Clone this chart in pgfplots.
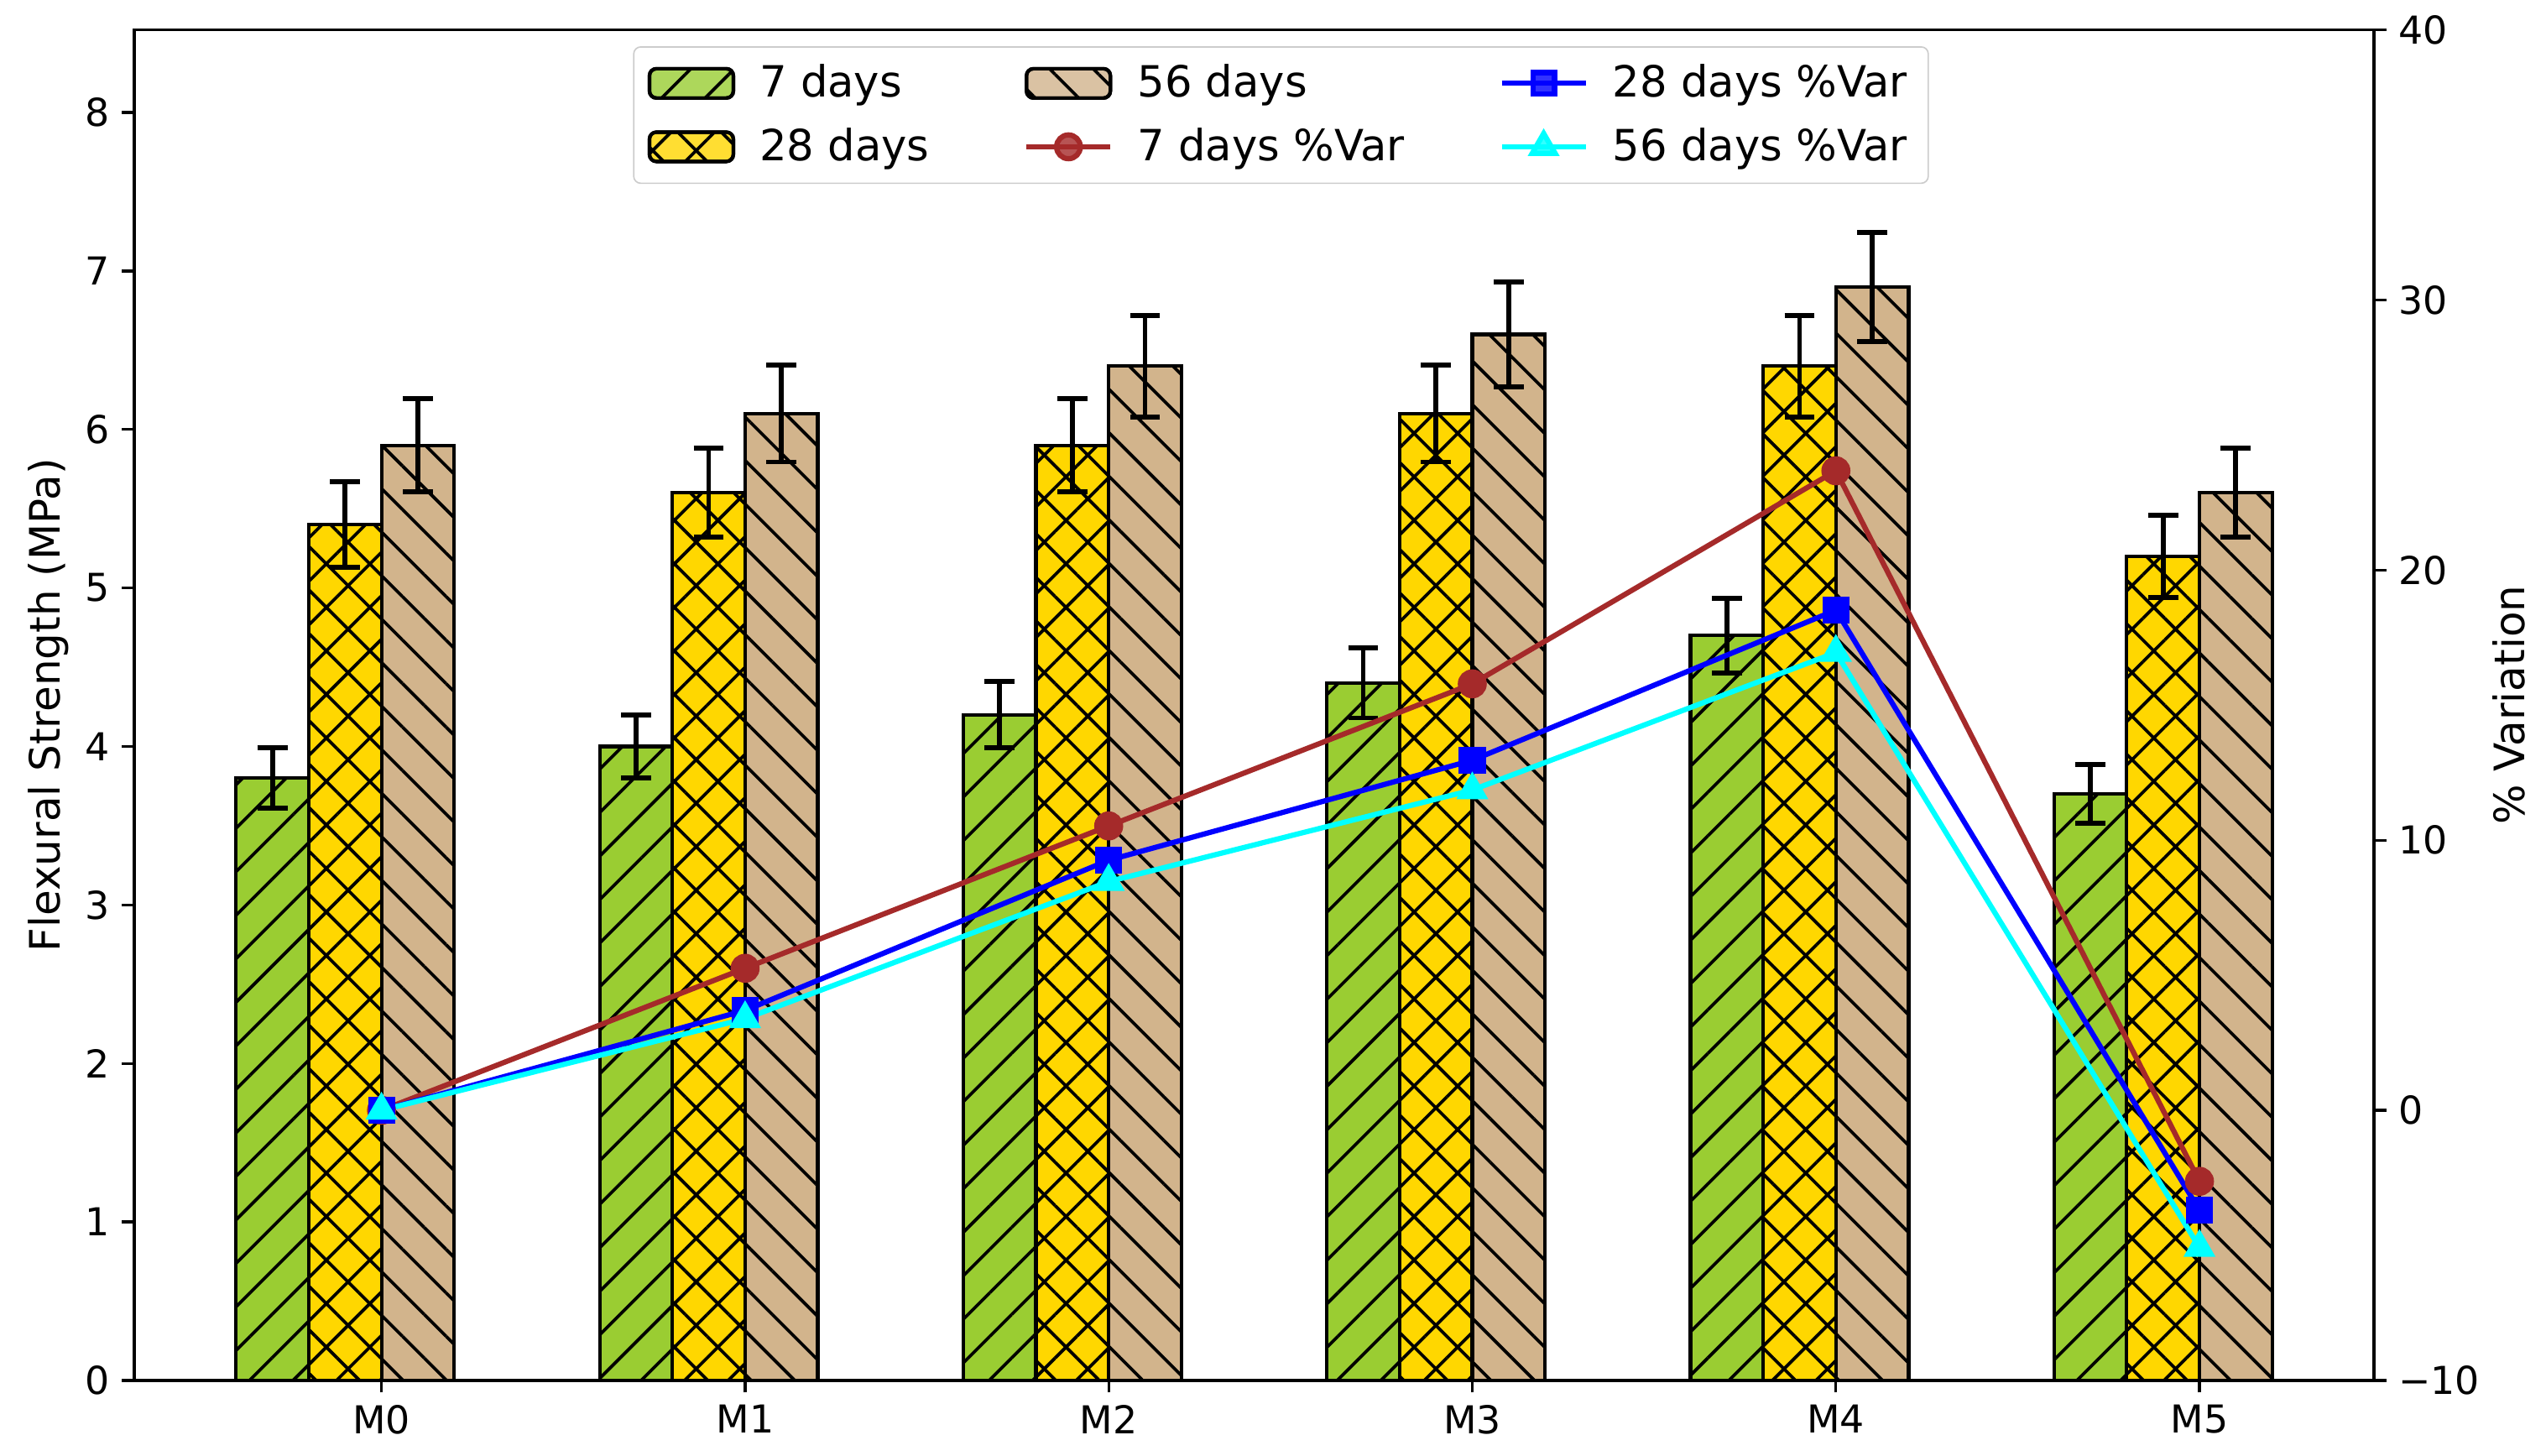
\documentclass[border=0pt]{standalone}
\usepackage{fontspec}
\setmainfont{DejaVu Sans}
\usepackage{pgfplots}
\pgfplotsset{compat=1.18}
\usepackage{pgfplotstable}
\usetikzlibrary{patterns.meta}

\definecolor{c7}{RGB}{154,205,50}
\definecolor{c28}{RGB}{255,215,0}
\definecolor{c56}{RGB}{210,180,140}
\definecolor{cbrown}{RGB}{165,42,42}
\definecolor{cblue}{RGB}{0,0,255}
\definecolor{ccyan}{RGB}{0,255,255}
\definecolor{lgframe}{RGB}{204,204,204}

\pgfplotstableread{
x s7 e7 s28 e28 s56 e56 v7 v28 v56
0 3.8 0.19 5.4 0.27 5.9 0.295 0 0 0
1 4.0 0.20 5.6 0.28 6.1 0.305 5.26 3.70 3.39
2 4.2 0.21 5.9 0.295 6.4 0.32 10.53 9.26 8.47
3 4.4 0.22 6.1 0.305 6.6 0.33 15.79 12.96 11.86
4 4.7 0.235 6.4 0.32 6.9 0.345 23.68 18.52 16.95
5 3.7 0.185 5.2 0.26 5.6 0.28 -2.63 -3.70 -5.08
}\data

\tikzset{
  hatchA/.style={postaction={pattern={Lines[angle=45,distance=8.8pt,line width=0.9pt]},pattern color=black}},
  hatchB/.style={postaction={pattern={Lines[angle=-45,distance=8.8pt,line width=0.9pt]},pattern color=black}},
  hatchX/.style={postaction={pattern={Hatch[angle=45,distance=8.8pt,line width=0.9pt]},pattern color=black}},
}

\pgfplotsset{
  common/.style={
    at={(0,0)}, anchor=south west, scale only axis,
    width=640.6pt, height=386.2pt,
    xmin=-0.68, xmax=5.48,
    tick align=outside, major tick length=3.5pt,
    every tick/.style={black, line width=0.8pt},
    axis line style={black, line width=0.8pt},
    ticklabel style={font=\fontsize{11}{13}\selectfont, black},
  },
  errplot/.style={draw=none, mark=none, forget plot,
    error bars/.cd, y dir=both, y explicit,
    error bar style={draw=black, line width=1.4pt, solid},
    error mark options={draw=black, line width=1.4pt, mark size=4.3pt, rotate=90}},
  lineleg/.style={legend image code/.code={\draw[mark repeat=2,mark phase=2,##1] plot coordinates {(0pt,0pt) (12pt,0pt) (24pt,0pt)};}},
  barlegA/.style={legend image code/.code={\draw[fill=c7, draw=black, line width=1pt, hatchA] (0pt,-4.2pt) rectangle (24pt,4.2pt);}},
  barlegB/.style={legend image code/.code={\draw[fill=c56, draw=black, line width=1pt, hatchB] (0pt,-4.2pt) rectangle (24pt,4.2pt);}},
  barlegX/.style={legend image code/.code={\draw[fill=c28, draw=black, line width=1pt, hatchX] (0pt,-4.2pt) rectangle (24pt,4.2pt);}},
}

\begin{document}
\begin{tikzpicture}
\useasboundingbox (-38.4pt,-21.6pt) rectangle (689.8pt,394.8pt);
\begin{axis}[common,
  ymin=0, ymax=8.52,
  xtick={0,1,2,3,4,5}, xticklabels={M0,M1,M2,M3,M4,M5},
  xtick pos=bottom, ytick pos=left,
  ytick={0,1,2,3,4,5,6,7,8}, yticklabels={0,1,2,3,4,5,6,7,8},
  ylabel={Flexural Strength (MPa)},
  every axis y label/.style={at={(axis description cs:-0.0382,0.5)}, rotate=90, anchor=center, font=\fontsize{12}{14}\selectfont},
]
\addplot[ybar, bar width=0.2, bar shift=-0.3, fill=c7, draw=black, line width=1pt, hatchA]
  table[x=x, y=s7]{\data};
\addplot[ybar, bar width=0.2, bar shift=-0.1, fill=c28, draw=black, line width=1pt, hatchX]
  table[x=x, y=s28]{\data};
\addplot[ybar, bar width=0.2, bar shift=0.1, fill=c56, draw=black, line width=1pt, hatchB]
  table[x=x, y=s56]{\data};
\addplot[errplot] table[x expr=\thisrow{x}-0.3, y=s7, y error=e7]{\data};
\addplot[errplot] table[x expr=\thisrow{x}-0.1, y=s28, y error=e28]{\data};
\addplot[errplot] table[x expr=\thisrow{x}+0.1, y=s56, y error=e56]{\data};
\end{axis}

\begin{axis}[common,
  ymin=-10, ymax=40,
  axis x line=none, axis y line*=right,
  ytick={-10,0,10,20,30,40}, yticklabels={−10,0,10,20,30,40},
  ylabel={\% Variation},
  every axis y label/.style={at={(axis description cs:1.0603,0.5)}, rotate=90, anchor=center, font=\fontsize{12}{14}\selectfont},
  legend columns=3,
  legend style={at={(0.512,0.988)}, anchor=north, draw=lgframe, fill=white, fill opacity=0.8, text opacity=1,
    rounded corners=2pt, font=\fontsize{12.3}{14}\selectfont, inner xsep=4pt, inner ysep=3pt,
    row sep=3.3pt,
    /tikz/every even column/.append style={column sep=25pt},
    /tikz/every odd column/.append style={column sep=5pt}},
  legend cell align=left,
]
\addplot[cbrown, line width=1.5pt, mark=*, mark size=3.4pt, mark options={solid, fill=cbrown}, forget plot]
  table[x=x, y=v7]{\data};
\addplot[cblue, line width=1.5pt, mark=square*, mark size=3.1pt, mark options={solid, fill=cblue}, forget plot]
  table[x=x, y=v28]{\data};
\addplot[ccyan, line width=1.5pt, mark=triangle*, mark size=3.8pt, mark options={solid, fill=ccyan}, forget plot]
  table[x=x, y=v56]{\data};

\addlegendimage{barlegA}
\addlegendentry{7 days}
\addlegendimage{barlegB}
\addlegendentry{56 days}
\addlegendimage{cblue, line width=1.5pt, mark=square*, mark size=3.1pt, mark options={solid, fill=cblue}, lineleg}
\addlegendentry{28 days \%Var}
\addlegendimage{barlegX}
\addlegendentry{28 days}
\addlegendimage{cbrown, line width=1.5pt, mark=*, mark size=3.4pt, mark options={solid, fill=cbrown}, lineleg}
\addlegendentry{7 days \%Var}
\addlegendimage{ccyan, line width=1.5pt, mark=triangle*, mark size=3.8pt, mark options={solid, fill=ccyan}, lineleg}
\addlegendentry{56 days \%Var}
\end{axis}
\end{tikzpicture}
\end{document}
